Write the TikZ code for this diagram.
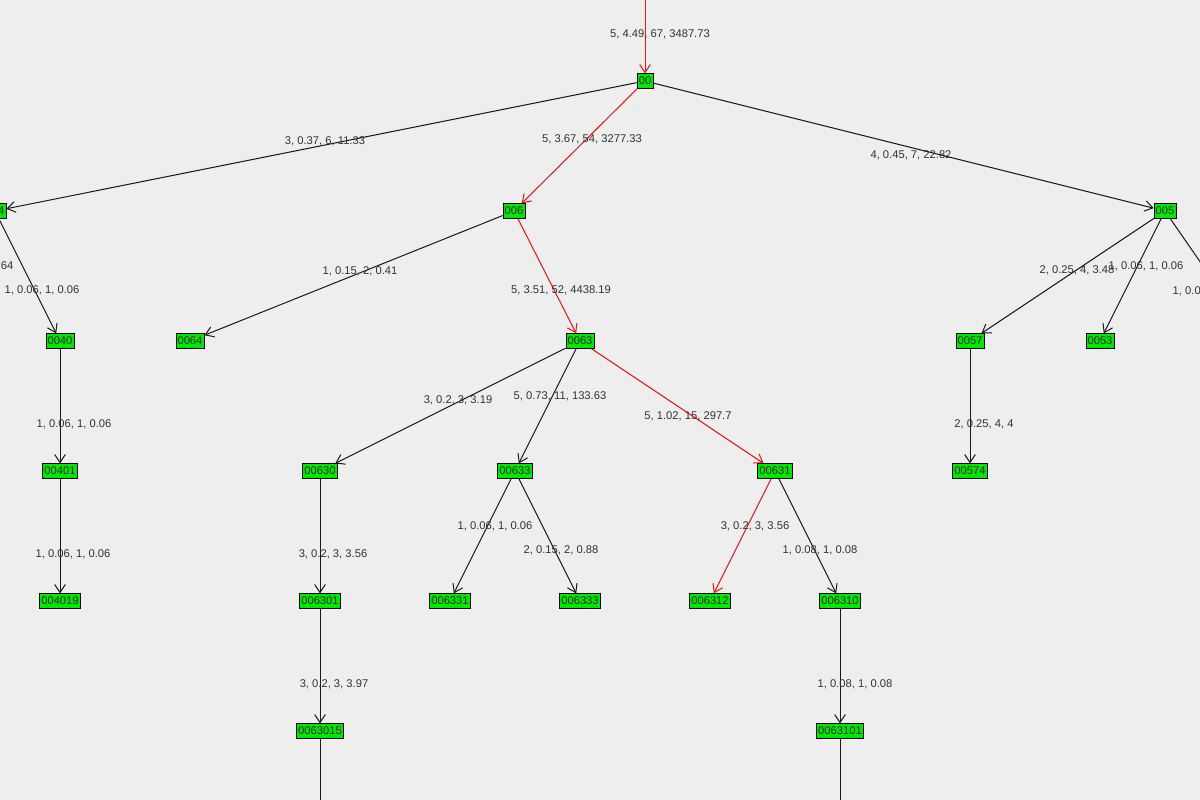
\documentclass[tikz,border=0pt]{standalone}
\usepackage{fontspec}
\setmainfont{Liberation Sans}
\usetikzlibrary{arrows.meta}
\definecolor{bg}{RGB}{238,238,238}
\definecolor{ng}{RGB}{0,232,0}
\definecolor{rd}{RGB}{230,20,20}
\begin{document}
\begin{tikzpicture}[x=0.75pt,y=-0.75pt,
  nd/.style={draw=black,fill=ng,inner sep=1.3pt,minimum height=11pt,font=\fontsize{8.4}{9}\selectfont,text=black!85},
  lb/.style={font=\fontsize{8.4}{9}\selectfont,text=black!80},
  ed/.style={draw=black!90,line width=0.75pt,-{Straight Barb[length=6pt,width=8pt]}},
  re/.style={ed,draw=rd}]
\fill[bg] (0,0) rectangle (1200,800);
\clip (0,0) rectangle (1200,800);
\node[nd] (n00) at (645,81) {00};
\node[nd] (n004) at (-5,211) {004};
\node[nd] (n006) at (514,211) {006};
\node[nd] (n005) at (1165,211) {005};
\node[nd] (n0040) at (60,341) {0040};
\node[nd] (n0064) at (190,341) {0064};
\node[nd] (n0063) at (580,341) {0063};
\node[nd] (n0057) at (970,341) {0057};
\node[nd] (n0053) at (1100,341) {0053};
\node[nd] (n00401) at (60,471) {00401};
\node[nd] (n00630) at (320,471) {00630};
\node[nd] (n00633) at (515,471) {00633};
\node[nd] (n00631) at (775,471) {00631};
\node[nd] (n00574) at (970,471) {00574};
\node[nd] (n004019) at (60,601) {004019};
\node[nd] (n006301) at (320,601) {006301};
\node[nd] (n006331) at (450,601) {006331};
\node[nd] (n006333) at (580,601) {006333};
\node[nd] (n006312) at (710,601) {006312};
\node[nd] (n006310) at (840,601) {006310};
\node[nd] (n0063015) at (320,731) {0063015};
\node[nd] (n0063101) at (840,731) {0063101};
\coordinate (top) at (645,-10);
\coordinate (rx) at (1250,334);
\coordinate (d1) at (320,820);
\coordinate (d2) at (840,820);
\draw[re] (top) -- (n00);
\draw[ed] (n00) -- (n004);
\draw[re] (n00) -- (n006);
\draw[ed] (n00) -- (n005);
\draw[ed] (n004) -- (n0040);
\draw[ed] (n006) -- (n0064);
\draw[re] (n006) -- (n0063);
\draw[ed] (n005) -- (n0057);
\draw[ed] (n005) -- (n0053);
\draw[draw=black!90,line width=0.75pt] (n005) -- (rx);
\draw[ed] (n0040) -- (n00401);
\draw[ed] (n0063) -- (n00630);
\draw[ed] (n0063) -- (n00633);
\draw[re] (n0063) -- (n00631);
\draw[ed] (n0057) -- (n00574);
\draw[ed] (n00401) -- (n004019);
\draw[ed] (n00630) -- (n006301);
\draw[ed] (n00633) -- (n006331);
\draw[ed] (n00633) -- (n006333);
\draw[re] (n00631) -- (n006312);
\draw[ed] (n00631) -- (n006310);
\draw[ed] (n006301) -- (n0063015);
\draw[ed] (n006310) -- (n0063101);
\draw[draw=black!90,line width=0.75pt] (n0063015) -- (d1);
\draw[draw=black!90,line width=0.75pt] (n0063101) -- (d2);
\node[lb] (l1) at (660,34) {5, 4.49, 67, 3487.73};
\node[lb] (l2) at (325,141) {3, 0.37, 6, 11.33};
\node[lb] (l3) at (592,139) {5, 3.67, 54, 3277.33};
\node[lb] (l4) at (911,155) {4, 0.45, 7, 22.82};
\node[lb] (l5) at (360,271) {1, 0.15, 2, 0.41};
\node[lb] (l6) at (561,290) {5, 3.51, 52, 4438.19};
\node[lb] (l7) at (1077,270) {2, 0.25, 4, 3.48};
\node[lb] (l8) at (1146,266) {1, 0.06, 1, 0.06};
\node[lb,anchor=west] (l9) at (1168,291) {1, 0.06, 1, 0.06};
\node[lb,anchor=east] (l10) at (18,266) {1.64};
\node[lb] (l11) at (42,290) {1, 0.06, 1, 0.06};
\node[lb] (l12) at (74,424) {1, 0.06, 1, 0.06};
\node[lb] (l13) at (73,554) {1, 0.06, 1, 0.06};
\node[lb] (l14) at (458,400) {3, 0.2, 3, 3.19};
\node[lb] (l15) at (560,396) {5, 0.73, 11, 133.63};
\node[lb] (l16) at (688,416) {5, 1.02, 15, 297.7};
\node[lb] (l17) at (984,424) {2, 0.25, 4, 4};
\node[lb] (l18) at (333,554) {3, 0.2, 3, 3.56};
\node[lb] (l19) at (495,526) {1, 0.06, 1, 0.06};
\node[lb] (l20) at (561,550) {2, 0.15, 2, 0.88};
\node[lb] (l21) at (755,526) {3, 0.2, 3, 3.56};
\node[lb] (l22) at (820,550) {1, 0.08, 1, 0.08};
\node[lb] (l23) at (334,684) {3, 0.2, 3, 3.97};
\node[lb] (l24) at (855,684) {1, 0.08, 1, 0.08};
\end{tikzpicture}
\end{document}
